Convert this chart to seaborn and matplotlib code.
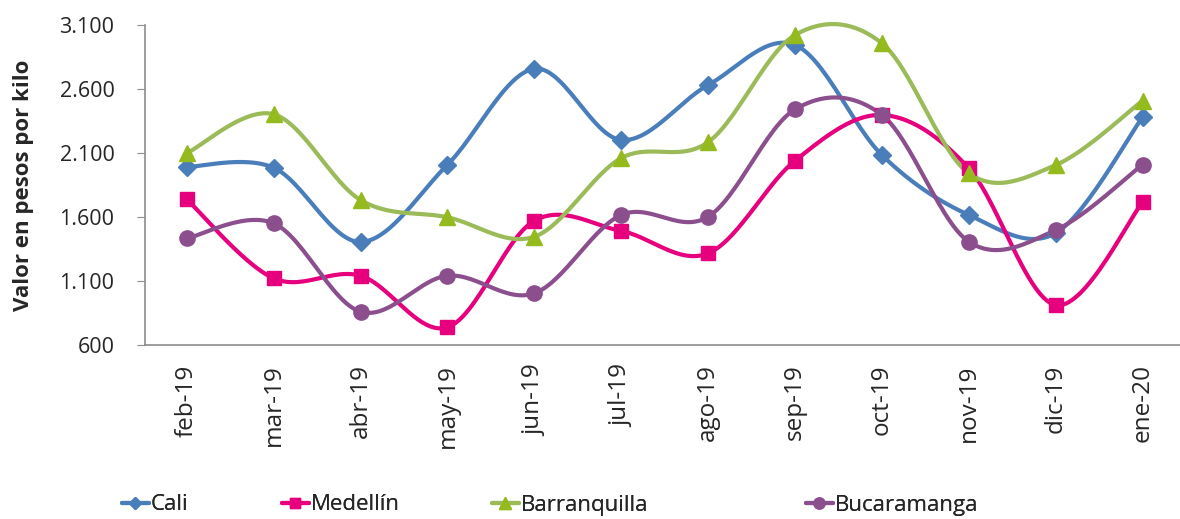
import numpy as np
import pandas as pd
import matplotlib
matplotlib.use("Agg")
import matplotlib.pyplot as plt
import seaborn as sns
from matplotlib.lines import Line2D

# data
meses = ["feb-19", "mar-19", "abr-19", "may-19", "jun-19", "jul-19",
         "ago-19", "sep-19", "oct-19", "nov-19", "dic-19", "ene-20"]
cali = [1991, 1985, 1405, 2008, 2758, 2202, 2631, 2944, 2084, 1616, 1474, 2380]
medellin = [1738, 1121, 1141, 738, 1571, 1491, 1316, 2040, 2397, 1980, 912, 1715]
barranquilla = [2098, 2403, 1733, 1598, 1446, 2060, 2185, 3022, 2957, 1941, 2006, 2509]
bucaramanga = [1433, 1551, 860, 1141, 1004, 1616, 1602, 2441, 2397, 1407, 1498, 2010]
y_ticks = [600, 1100, 1600, 2100, 2600, 3100]

series = [
    ("Cali", cali, "#4A7EBB", "#4A7EBB", "D", 9),
    ("Medellín", medellin, "#E6007E", "#E6007E", "s", 10),
    ("Barranquilla", barranquilla, "#9BBB59", "#95BA1E", "^", 11),
    ("Bucaramanga", bucaramanga, "#8B4F8E", "#8B4F8E", "o", 11),
]


# excel-like smoothed line (bezier through the points)
def smooth(xs, ys, n=30):
    p = np.column_stack([xs, ys]).astype(float)
    p = np.vstack([p[0], p, p[-1]])
    out = []
    t = np.linspace(0, 1, n)[:, None]
    for i in range(1, len(p) - 2):
        p0, p1, p2, p3 = p[i - 1], p[i], p[i + 1], p[i + 2]
        c1 = p1 + (p2 - p0) / 6
        c2 = p2 - (p3 - p1) / 6
        seg = (1 - t) ** 3 * p1 + 3 * (1 - t) ** 2 * t * c1 + 3 * (1 - t) * t ** 2 * c2 + t ** 3 * p2
        out.append(seg if i == 1 else seg[1:])
    out = np.vstack(out)
    return out[:, 0], out[:, 1]


sns.set_style("white")
plt.rcParams['font.family'] = ['Open Sans', 'DejaVu Sans']

fig = plt.figure(figsize=(11.8, 5.19), dpi=100)
ax = fig.add_axes([145 / 1180, 1 - 345 / 519, 1 - 145 / 1180, 320 / 519])

x = np.arange(len(meses))
handles = []
for name, vals, lc, mc, mk, ms in series:
    sx, sy = smooth(x, vals)
    sns.lineplot(x=sx, y=sy, sort=False, estimator=None, color=lc, linewidth=3, ax=ax)
    ax.lines[-1].set_clip_on(False)
    ax.plot(x, vals, linestyle="none", marker=mk, markersize=ms, color=mc, clip_on=False, zorder=5)
    handles.append(Line2D([0], [0], color=lc, linewidth=3, marker=mk, markersize=ms - 3,
                          markerfacecolor=mc, markeredgecolor=mc))

ax.set_xlim(-0.48, 11.43)
ax.set_ylim(600, 3100)
ax.set_yticks(y_ticks)
ax.set_yticklabels([f"{v:,}".replace(",", ".") for v in y_ticks], fontsize=15.5)
ax.set_xticks(x)
ax.set_xticklabels(meses, rotation=90, fontsize=17.5)
ax.tick_params(axis="y", direction="out", length=6, color="#8c8c8c", left=True, pad=16)
ax.tick_params(axis="x", length=0, pad=14)
ax.set_ylabel("Valor en pesos por kilo", fontsize=16, fontweight="bold", labelpad=18)

for s in ["top", "right"]:
    ax.spines[s].set_visible(False)
for s in ["left", "bottom"]:
    ax.spines[s].set_color("#8c8c8c")
    ax.spines[s].set_linewidth(1.2)

# legend entries spaced like the original
leg_x = [122, 282, 492, 806]
for h, (name, *_), lx in zip(handles, series, leg_x):
    lg = fig.legend([h], [name], loc="center left", bbox_to_anchor=(lx / 1180, 1 - 505 / 519),
                    frameon=False, fontsize=16, handlelength=1.2, handletextpad=0.08,
                    borderpad=0, borderaxespad=0)
    fig.add_artist(lg)

fig.savefig("out.png", dpi=100)
